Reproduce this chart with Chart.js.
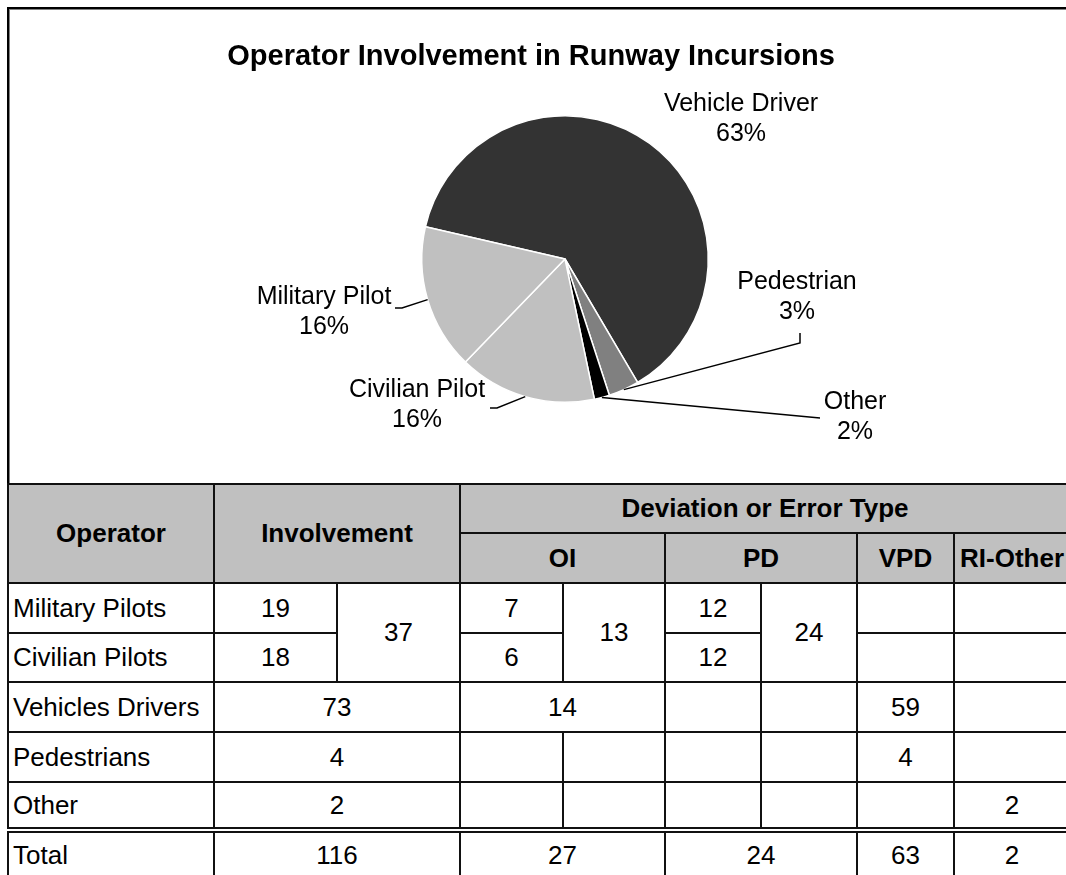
<!DOCTYPE html>
<html>
<head>
<meta charset="utf-8">
<script src="https://cdn.jsdelivr.net/npm/chart.js@4"></script>
<style>
  html, body { margin: 0; padding: 0; background: #fff; overflow: hidden; }
  body { width: 1066px; height: 875px; position: relative; font-family: "Liberation Sans", Arial, sans-serif; }
  #frame { position: absolute; left: 7px; top: 7px; width: 1120px; height: 480px;
           border-top: 2px solid #000; border-left: 2px solid #000; box-shadow: inset 1px 1px 0 #808080; }
  #pie { position: absolute; left: 0; top: 0; }
  #tbl { position: absolute; left: 7px; top: 483px; border-collapse: collapse; table-layout: fixed; width: 1062px; }
  #tbl th, #tbl td { border: 2px solid #111; padding: 0; text-align: center; vertical-align: middle;
                     font-size: 26px; color: #000; overflow: hidden; white-space: nowrap; }
  #tbl th { background: #c0c0c0; font-weight: bold; }
  #tbl td.op { text-align: left; padding-left: 4px; }
  #tbl tr.total td { border-top: 6px double #111; }
</style>
</head>
<body>
<div id="frame"></div>
<canvas id="pie" width="1066" height="483"></canvas>
<table id="tbl"></table>
<script>
// pie
const pieLabels = ['Vehicle Driver', 'Pedestrian', 'Other', 'Civilian Pilot', 'Military Pilot'];
const pieValues = [73, 4, 2, 18, 19];
const pieColors = ['#333333', '#808080', '#000000', '#c0c0c0', '#c0c0c0'];

// table
const operators = ['Military Pilots', 'Civilian Pilots', 'Vehicles Drivers', 'Pedestrians', 'Other'];
const involvement = [19, 18, 73, 4, 2];
const pilotInvolvement = 37;
const oiValues = [7, 6, 14, null, null];
const oiPilots = 13;
const pdValues = [12, 12, null, null, null];
const pdPilots = 24;
const vpdValues = [null, null, 59, 4, null];
const riOtherValues = [null, null, null, null, 2];
const totals = [116, 27, 24, 63, 2];

// label placement around the pie, relative to its centre (px)
const labelLayout = [
  { dx: 176, dy: -140, line: null },
  { dx: 232, dy: 38, line: [[235, 84], [235, 74]] },
  { dx: 290, dy: 158, line: [[255, 159]] },
  { dx: -148, dy: 146, line: [[-68, 149], [-75, 149]] },
  { dx: -241, dy: 53, line: [[-163, 49], [-170, 49]] }
];

const pieDecor = {
  id: 'pieDecor',
  afterDraw(chart) {
    const ctx = chart.ctx;
    ctx.save();
    ctx.fillStyle = '#000';
    ctx.textAlign = 'center';
    ctx.textBaseline = 'middle';
    ctx.font = 'bold 29px "Liberation Sans", Arial, sans-serif';
    ctx.fillText('Operator Involvement in Runway Incursions', 531, 57);

    const arcs = chart.getDatasetMeta(0).data;
    const total = pieValues.reduce((a, b) => a + b, 0);
    ctx.font = '25px "Liberation Sans", Arial, sans-serif';
    ctx.strokeStyle = '#000';
    ctx.lineWidth = 1.5;
    arcs.forEach((arc, i) => {
      const cx = arc.x, cy = arc.y;
      const lay = labelLayout[i];
      const pct = Math.round(pieValues[i] / total * 100) + '%';
      ctx.fillText(pieLabels[i], cx + lay.dx, cy + lay.dy - 15);
      ctx.fillText(pct, cx + lay.dx, cy + lay.dy + 15);
      if (lay.line) {
        const mid = (arc.startAngle + arc.endAngle) / 2;
        ctx.beginPath();
        ctx.moveTo(cx + Math.cos(mid) * arc.outerRadius, cy + Math.sin(mid) * arc.outerRadius);
        lay.line.forEach(p => ctx.lineTo(cx + p[0], cy + p[1]));
        ctx.stroke();
      }
    });
    ctx.restore();
  }
};

new Chart(document.getElementById('pie'), {
  type: 'pie',
  data: {
    labels: pieLabels,
    datasets: [{
      data: pieValues,
      backgroundColor: pieColors,
      borderColor: '#ffffff',
      borderWidth: 1.5
    }]
  },
  options: {
    responsive: false,
    animation: false,
    rotation: 283,
    layout: { padding: { left: 421, right: 357, top: 115, bottom: 80 } },
    plugins: {
      legend: { display: false },
      title: { display: false },
      tooltip: { enabled: false }
    }
  },
  plugins: [pieDecor]
});

// build the table
function cell(v, attrs = '', cls = '') {
  return '<td' + (cls ? ' class="' + cls + '"' : '') + (attrs ? ' ' + attrs : '') + '>' + (v == null ? '' : v) + '</td>';
}
function pair(v) {
  return v == null ? cell(null) + cell(null) : cell(v, 'colspan="2"');
}
const rowHeights = [49, 50, 50, 49, 50, 50, 48, 48];
let html = '<colgroup>' + [206, 123, 123, 103, 102, 96, 96, 97, 116].map(w => '<col style="width:' + w + 'px">').join('') + '</colgroup>';
html += '<tr style="height:' + rowHeights[0] + 'px"><th rowspan="2">Operator</th><th rowspan="2" colspan="2">Involvement</th><th colspan="6">Deviation or Error Type</th></tr>';
html += '<tr style="height:' + rowHeights[1] + 'px"><th colspan="2">OI</th><th colspan="2">PD</th><th>VPD</th><th>RI-Other</th></tr>';
operators.forEach((op, i) => {
  let r = '<tr style="height:' + rowHeights[i + 2] + 'px">' + cell(op, '', 'op');
  if (i === 0) {
    r += cell(involvement[i]) + cell(pilotInvolvement, 'rowspan="2"') +
         cell(oiValues[i]) + cell(oiPilots, 'rowspan="2"') +
         cell(pdValues[i]) + cell(pdPilots, 'rowspan="2"');
  } else if (i === 1) {
    r += cell(involvement[i]) + cell(oiValues[i]) + cell(pdValues[i]);
  } else {
    r += pair(involvement[i]) + pair(oiValues[i]) + pair(pdValues[i]);
  }
  r += cell(vpdValues[i]) + cell(riOtherValues[i]) + '</tr>';
  html += r;
});
html += '<tr class="total" style="height:' + rowHeights[7] + 'px">' + cell('Total', '', 'op') +
        cell(totals[0], 'colspan="2"') + cell(totals[1], 'colspan="2"') + cell(totals[2], 'colspan="2"') +
        cell(totals[3]) + cell(totals[4]) + '</tr>';
document.getElementById('tbl').innerHTML = html;
</script>
</body>
</html>
